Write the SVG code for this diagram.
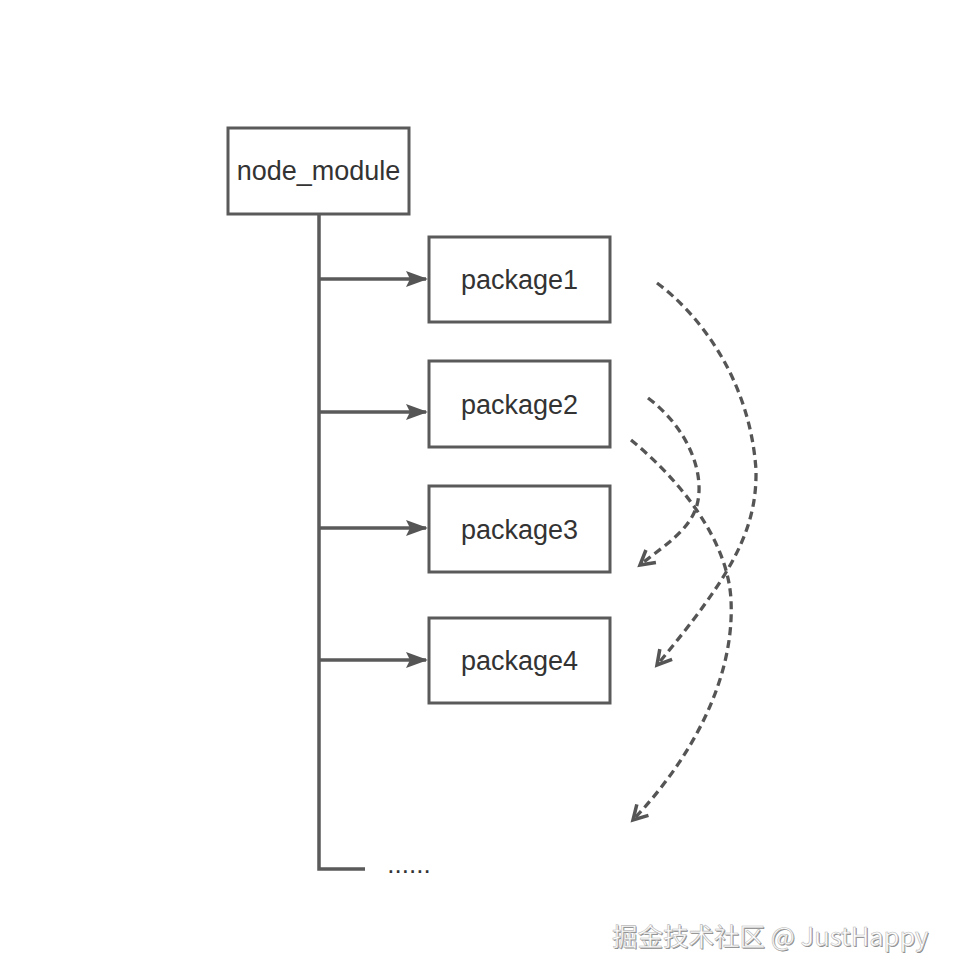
<svg xmlns="http://www.w3.org/2000/svg" width="954" height="978" viewBox="0 0 954 978">
<style>
.box{fill:#fff;stroke:#5a5a5a;stroke-width:3}
.lbl{font-family:"Liberation Sans","Helvetica",Arial,sans-serif;font-size:27px;fill:#333;text-anchor:middle}
.line{fill:none;stroke:#5a5a5a;stroke-width:3.5}
.dash{fill:none;stroke:#555;stroke-width:3.3;stroke-dasharray:8 5}
.wm{font-family:"Noto Sans CJK SC","Noto Sans",sans-serif;font-size:25.5px}
</style>
<defs>
<marker id="tri" markerWidth="22" markerHeight="16" refX="20" refY="8" orient="auto" markerUnits="userSpaceOnUse">
<path d="M0,0 L22,8 L0,16 L4,8 Z" fill="#555"/>
</marker>
<marker id="vee" markerWidth="24" markerHeight="24" refX="20" refY="12" orient="auto" markerUnits="userSpaceOnUse">
<path d="M6,4 L20,12 L6,20" fill="none" stroke="#555" stroke-width="3.5"/>
</marker>
</defs>
<rect width="954" height="978" fill="#fff"/>
<g id="connectors">
<path class="line" d="M319,214 V869 H365"/>
<path class="line" d="M319,279 H426" marker-end="url(#tri)"/>
<path class="line" d="M319,412 H426" marker-end="url(#tri)"/>
<path class="line" d="M319,528 H426" marker-end="url(#tri)"/>
<path class="line" d="M319,660 H426" marker-end="url(#tri)"/>
<path class="dash" d="M657,283 C700,315 750,380 756,470 C757,530 732,575 657,665" marker-end="url(#vee)"/>
<path class="dash" d="M648,398 C690,430 705,475 697,505 C690,530 665,545 640,565" marker-end="url(#vee)"/>
<path class="dash" d="M631,440 C680,480 728,540 731,600 C735,680 690,760 633,820" marker-end="url(#vee)"/>
</g>
<g id="node_module">
<rect class="box" x="228" y="128" width="181" height="86"/>
<text class="lbl" x="318.5" y="180">node_module</text>
</g>
<g id="package1">
<rect class="box" x="429" y="237" width="181" height="85"/>
<text class="lbl" x="519.5" y="289">package1</text>
</g>
<g id="package2">
<rect class="box" x="429" y="361" width="181" height="86"/>
<text class="lbl" x="519.5" y="414">package2</text>
</g>
<g id="package3">
<rect class="box" x="429" y="486" width="181" height="86"/>
<text class="lbl" x="519.5" y="539">package3</text>
</g>
<g id="package4">
<rect class="box" x="429" y="618" width="181" height="85"/>
<text class="lbl" x="519.5" y="670">package4</text>
</g>
<g id="more">
<text class="lbl" x="409" y="873" style="font-size:26px">......</text>
</g>
<g id="watermark">
<text class="wm" x="613" y="947" fill="#888">掘金技术社区 @ JustHappy</text>
<text class="wm" x="612" y="946" fill="#fff" stroke="#bbb" stroke-width="0.6">掘金技术社区 @ JustHappy</text>
</g>
</svg>
